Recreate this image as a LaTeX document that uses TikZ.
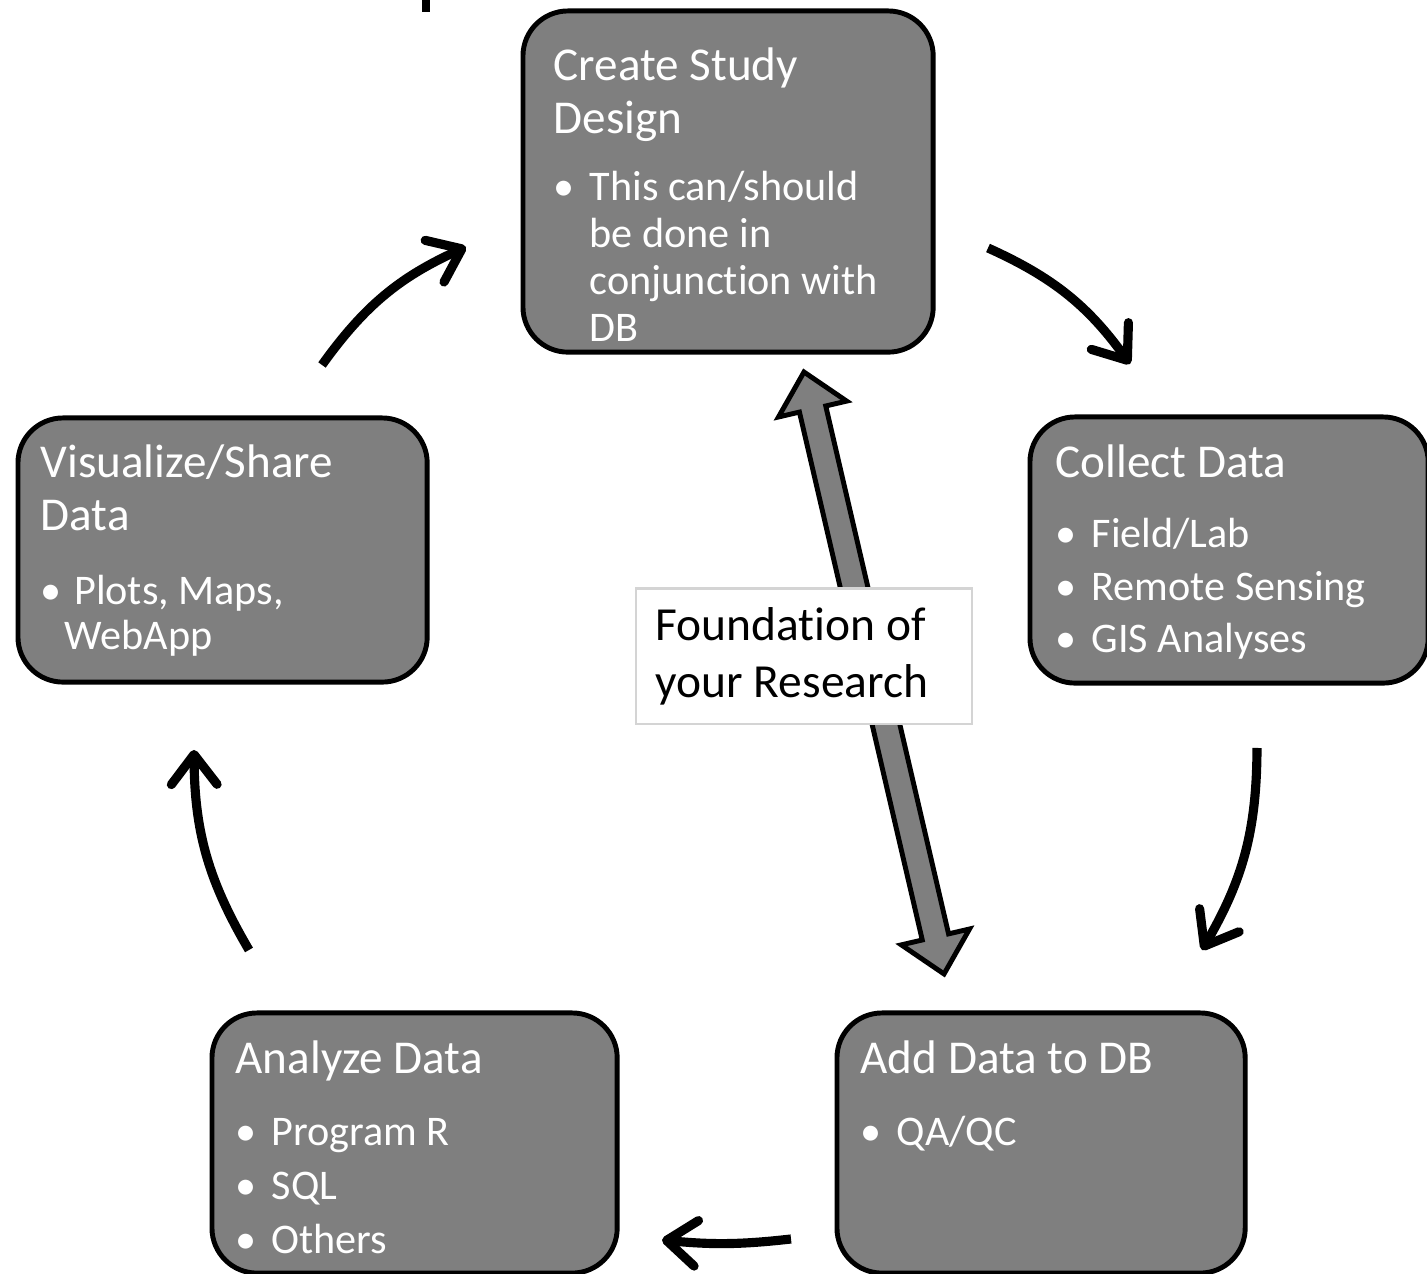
\documentclass[tikz,border=0pt]{standalone}
\usepackage{fontspec}
\setmainfont{Carlito}[Ligatures={NoCommon}]
\usetikzlibrary{arrows.meta}
\definecolor{boxgray}{RGB}{127,127,127}
\definecolor{framegray}{RGB}{212,212,212}
\newlength{\itemind}
\setlength{\itemind}{0.36cm}
\newcommand{\hdsize}{\fontsize{13.4pt}{14.8pt}\selectfont}
\newcommand{\itsize}[1]{\fontsize{12pt}{#1}\selectfont}
\newcommand{\itm}[1]{\hbox{\makebox[\itemind][l]{•}#1}}
\newcommand{\cnt}[1]{\hbox{\hspace*{\itemind}#1}}

\begin{document}
\begin{tikzpicture}[x=0.01cm,y=-0.01cm,
    stage/.style={draw=black,line width=1.4pt,fill=boxgray,rounded corners=0.45cm,inner sep=0pt,anchor=north west},
    txt/.style={anchor=base west,inner sep=0pt,text=white},
    note/.style={draw=framegray,line width=0.6pt,fill=white,inner sep=0pt,anchor=north west},
    flow/.style={line width=2.6pt,-{Straight Barb[length=8.5pt,width=13pt,round]}}]
        \useasboundingbox (0,0) rectangle (1427,1274);
        \fill (422,0) rectangle (430,12);

        \node[stage,minimum width=4.10cm,minimum height=3.41cm] (create) at (520.5,8.5) {};
        \node[stage,minimum width=3.98cm,minimum height=2.66cm] (collect) at (1027.5,414.5) {};
        \node[stage,minimum width=4.09cm,minimum height=2.64cm] (visual) at (15.5,415.5) {};
        \node[stage,minimum width=4.05cm,minimum height=2.60cm] (analyze) at (209.5,1010.5) {};
        \node[stage,minimum width=4.08cm,minimum height=2.60cm] (adddb) at (834.5,1010.5) {};

        \node[txt] (createtx) at (553,81) {\vtop{\hdsize\hbox{Create Study}\hbox{Design}\itsize{13.4pt}\vskip5.7pt
            \itm{This can/should}\cnt{be done in}\cnt{conjunction with}\cnt{DB}}};
        \node[txt] (collecttx) at (1055,478) {\vtop{\hdsize\hbox{Collect Data}\itsize{14.9pt}\vskip5pt
            \itm{Field/Lab}\itm{Remote Sensing}\itm{GIS Analyses}}};
        \node[txt] (visualtx) at (40,478) {\vtop{\hdsize\hbox{Visualize/Share}\hbox{Data}\itsize{12.8pt}\vskip8.5pt
            \hbox{\makebox[0.24cm][l]{•} Plots, Maps,}\hbox{\hspace*{0.24cm}WebApp}}};
        \node[txt] (analyzetx) at (235,1074) {\vtop{\hdsize\hbox{Analyze Data}\itsize{15.4pt}\vskip4.8pt
            \itm{Program R}\itm{SQL}\itm{Others}}};
        \node[txt] (adddbtx) at (860,1074) {\vtop{\hdsize\hbox{Add Data to DB}\itsize{15.4pt}\vskip4.8pt
            \itm{QA/QC}}};

        \begin{scope}[shift={(874,673)},rotate=103.1]
            \draw[line width=1.4pt,fill=boxgray,line join=miter]
                (-309,0) -- (-271,35) -- (-271,13.5) -- (271,13.5) -- (271,35) -- (309,0)
                -- (271,-35) -- (271,-13.5) -- (-271,-13.5) -- (-271,-35) -- cycle;
        \end{scope}

        \node[note,minimum width=3.36cm,minimum height=1.35cm] (found) at (634.5,587.5) {};
        \node[txt,text=black] (foundtx) at (655,641) {\vtop{\fontsize{13.5pt}{16.2pt}\selectfont\hbox{Foundation of}\hbox{your Research}}};

        \coordinate (t1) at (988,248);
        \coordinate (h1) at (1130,364);
        \coordinate (t2) at (1257,748);
        \coordinate (h2) at (1202,950);
        \coordinate (t3) at (791,1239);
        \coordinate (h3) at (662,1240);
        \coordinate (t4) at (249,950);
        \coordinate (h4) at (194,750);
        \coordinate (t5) at (322,365);
        \coordinate (h5) at (466,247);

        \draw[flow] (t1) to[bend left=15] (h1);
        \draw[flow] (t2) to[bend left=15] (h2);
        \draw[flow] (t3) to[bend left=6] (h3);
        \draw[flow] (t4) to[bend left=15] (h4);
        \draw[flow] (t5) to[bend left=15] (h5);
    \end{tikzpicture}
\end{document}
